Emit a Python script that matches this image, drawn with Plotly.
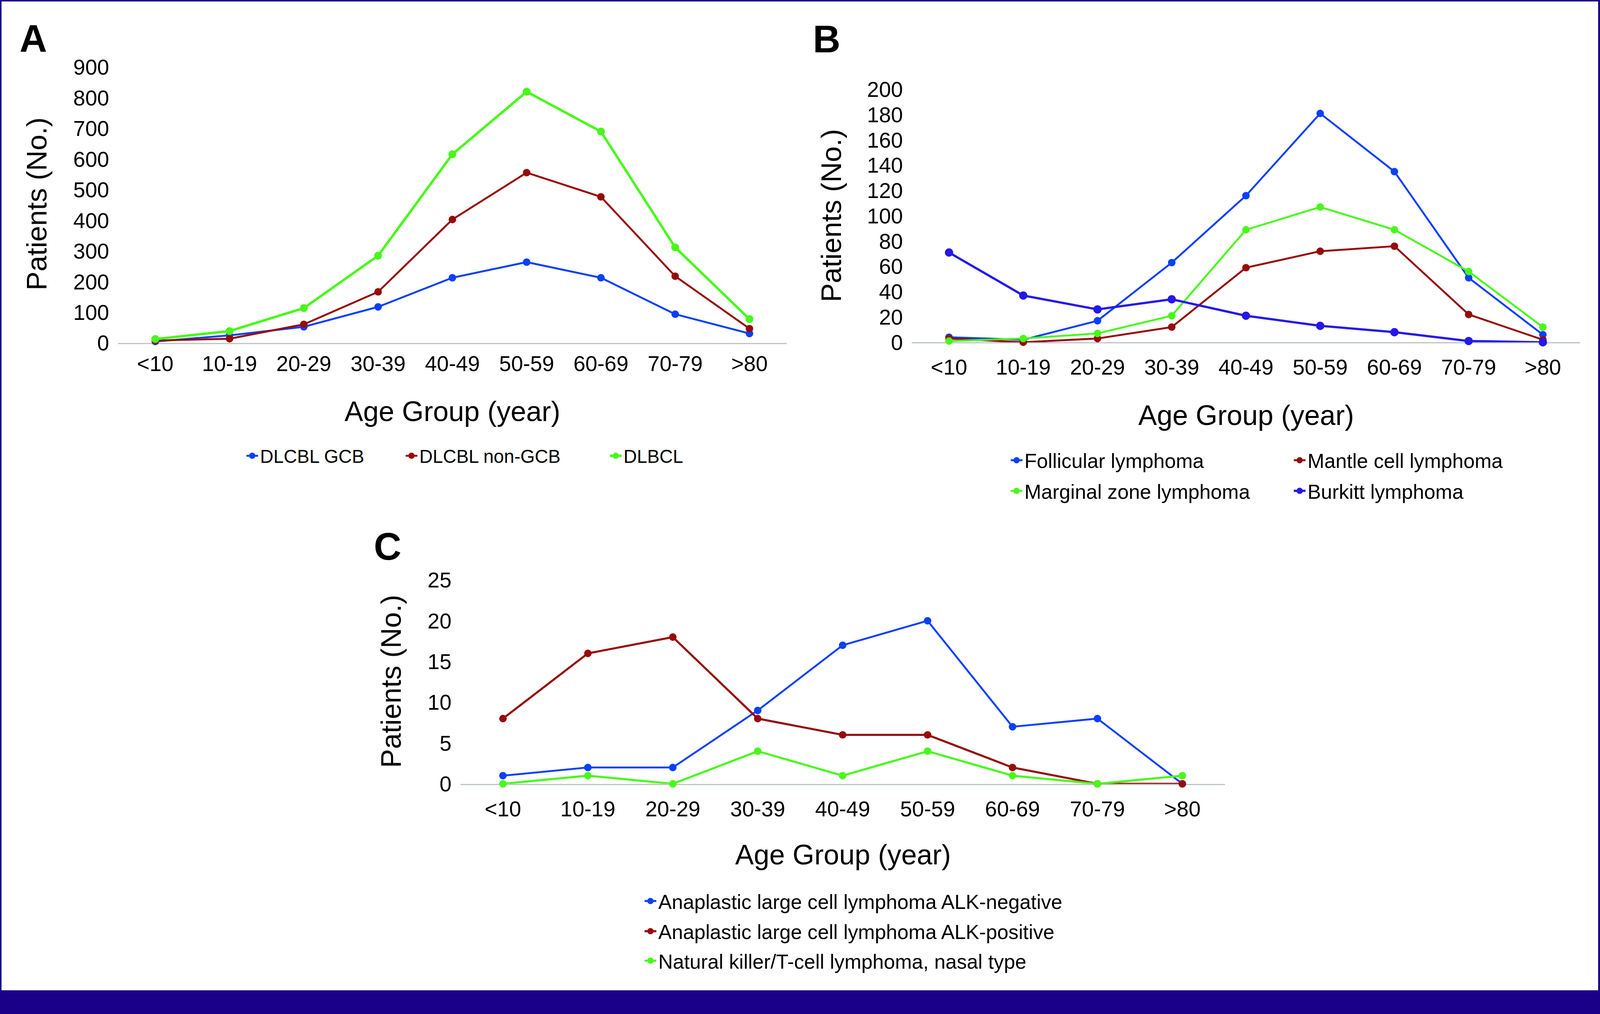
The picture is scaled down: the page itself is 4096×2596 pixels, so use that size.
import plotly.graph_objects as go

# ---------------- data ----------------
age_groups = ["<10", "10-19", "20-29", "30-39", "40-49", "50-59", "60-69", "70-79", ">80"]

# Panel A
a_names = ["DLCBL GCB", "DLCBL non-GCB", "DLBCL"]
a_gcb = [5, 25, 53, 118, 213, 264, 213, 94, 31]
a_nongcb = [8, 14, 61, 167, 403, 556, 477, 218, 47]
a_dlbcl = [13, 39, 114, 285, 616, 820, 690, 312, 78]
a_ticks = [0, 100, 200, 300, 400, 500, 600, 700, 800, 900]

# Panel B
b_names = ["Follicular lymphoma", "Mantle cell lymphoma", "Marginal zone lymphoma", "Burkitt lymphoma"]
b_follicular = [4, 2, 17, 63, 116, 181, 135, 51, 6]
b_mantle = [3, 0, 3, 12, 59, 72, 76, 22, 2]
b_marginal = [1, 3, 7, 21, 89, 107, 89, 56, 12]
b_burkitt = [71, 37, 26, 34, 21, 13, 8, 1, 0]
b_ticks = [0, 20, 40, 60, 80, 100, 120, 140, 160, 180, 200]

# Panel C
c_names = ["Anaplastic large cell lymphoma ALK-negative",
           "Anaplastic large cell lymphoma ALK-positive",
           "Natural killer/T-cell lymphoma, nasal type"]
c_alk_neg = [1, 2, 2, 9, 17, 20, 7, 8, 0]
c_alk_pos = [8, 16, 18, 8, 6, 6, 2, 0, 0]
c_nk = [0, 1, 0, 4, 1, 4, 1, 0, 1]
c_ticks = [0, 5, 10, 15, 20, 25]

panel_letters = ["A", "B", "C"]
x_title = "Age Group (year)"
y_title = "Patients (No.)"

# ---------------- geometry helpers ----------------
W_REF, H_REF = 4239, 2687
W, H = 4096, 2596
S = W / W_REF
FONT = "Liberation Sans, Arial, Helvetica, sans-serif"

BLUE = "#0B40FA"
RED = "#960B0B"
GREEN = "#48F81A"
INDIGO = "#2418E8"
AXIS_GREY = "#BEC5C3"
NAVY = "#1A0088"


def fx(x):
    return x / W_REF


def fy(y):
    return 1 - y / H_REF


fig = go.Figure()


def add_series(xaxis, yaxis, name, values, color, lw, ms, legend):
    fig.add_trace(go.Scatter(
        x=age_groups, y=values, name=name, mode="lines+markers",
        xaxis=xaxis, yaxis=yaxis, legend=legend, showlegend=True,
        line=dict(color=color, width=lw * S),
        marker=dict(color=color, size=ms * S, symbol="circle"),
        cliponaxis=False, hoverinfo="x+y+name",
    ))


# Panel A
add_series("x", "y", a_names[0], a_gcb, BLUE, 5, 20, "legend")
add_series("x", "y", a_names[1], a_nongcb, RED, 5, 20, "legend2")
add_series("x", "y", a_names[2], a_dlbcl, GREEN, 6.5, 21, "legend3")
# Panel B
add_series("x2", "y2", b_names[0], b_follicular, BLUE, 5, 20, "legend4")
add_series("x2", "y2", b_names[1], b_mantle, RED, 5, 20, "legend5")
add_series("x2", "y2", b_names[2], b_marginal, GREEN, 5, 20, "legend6")
add_series("x2", "y2", b_names[3], b_burkitt, INDIGO, 6, 22, "legend7")
# Panel C
add_series("x3", "y3", c_names[0], c_alk_neg, BLUE, 5, 20, "legend8")
add_series("x3", "y3", c_names[1], c_alk_pos, RED, 5.5, 20, "legend9")
add_series("x3", "y3", c_names[2], c_nk, GREEN, 5.5, 20, "legend10")

TICK_FONT = dict(family=FONT, size=57 * S, color="black")


def xaxis_cfg(domain, anchor, standoff):
    return dict(domain=[fx(domain[0]), fx(domain[1])], anchor=anchor, type="category",
                range=[-0.5, 8.5], showline=True, linecolor=AXIS_GREY, linewidth=3 * S,
                showgrid=False, zeroline=False, ticks="", tickfont=TICK_FONT, automargin=False,
                ticklabelstandoff=int(round(standoff * S)), layer="below traces", fixedrange=True)


def yaxis_cfg(domain, anchor, rng, ticks):
    return dict(domain=[fy(domain[1]), fy(domain[0])], anchor=anchor, range=rng,
                tickvals=ticks, ticktext=[str(t) for t in ticks], automargin=False,
                showline=False, showgrid=False, zeroline=False, ticks="",
                tickfont=TICK_FONT, ticklabelstandoff=int(round(23 * S)), fixedrange=True)


layout = dict(
    width=W, height=H, autosize=False, showlegend=True,
    margin=dict(l=0, r=0, t=0, b=0, pad=0, autoexpand=False),
    paper_bgcolor="white", plot_bgcolor="white",
    font=dict(family=FONT, color="black"),
    xaxis=xaxis_cfg((313, 2084), "y", 3),
    yaxis=yaxis_cfg((178, 909), "x", [0, 900], a_ticks),
    xaxis2=xaxis_cfg((2416, 4186), "y2", 15),
    yaxis2=yaxis_cfg((237, 907), "x2", [0, 200], b_ticks),
    xaxis3=xaxis_cfg((1220, 3245), "y3", 15),
    yaxis3=yaxis_cfg((1537, 2077), "x3", [0, 25], c_ticks),
)

# legends: one per entry, placed where the reference puts each entry
legend_pos = [
    ("legend", 689, 1208, 49),
    ("legend2", 1111, 1208, 49),
    ("legend3", 1652, 1208, 49),
    ("legend4", 2714, 1220, 53.5),
    ("legend5", 3464, 1220, 53.5),
    ("legend6", 2714, 1301, 53.5),
    ("legend7", 3464, 1301, 53.5),
    ("legend8", 1744, 2388, 53.5),
    ("legend9", 1744, 2468, 53.5),
    ("legend10", 1744, 2546, 53.5),
]
for key, tx, ty, fs in legend_pos:
    layout[key] = dict(x=fx(tx) - 40 / W, y=fy(ty), xanchor="left", yanchor="middle",
                       orientation="v", bgcolor="rgba(0,0,0,0)", borderwidth=0, visible=True,
                       font=dict(family=FONT, size=fs * S, color="black"))

annotations = []
# panel letters
for letter, (cx, cy) in zip(panel_letters, [(87.5, 101.5), (2190, 104), (1027, 1449)]):
    annotations.append(dict(text="<b>%s</b>" % letter, x=fx(cx), y=fy(cy), xref="paper", yref="paper",
                            xanchor="center", yanchor="middle", showarrow=False,
                            font=dict(family=FONT, size=101 * S, color="black")))
# x-axis titles
for cx, cy in [(1198, 1090), (3301, 1100), (2233, 2265)]:
    annotations.append(dict(text=x_title, x=fx(cx), y=fy(cy), xref="paper", yref="paper",
                            xanchor="center", yanchor="middle", showarrow=False,
                            font=dict(family=FONT, size=74 * S, color="black")))
# y-axis titles
for cx, cy in [(97, 540), (2202, 571), (1036, 1806)]:
    annotations.append(dict(text=y_title, x=fx(cx), y=fy(cy), xref="paper", yref="paper",
                            xanchor="center", yanchor="middle", textangle=-90, showarrow=False,
                            font=dict(family=FONT, size=75 * S, color="black")))
layout["annotations"] = annotations

# page frame
shapes = []
for x0, y0, x1, y1 in [(0, 0, 4239, 4), (0, 0, 4, 2687), (4234, 0, 4239, 2687), (0, 2624, 4239, 2687)]:
    shapes.append(dict(type="rect", xref="paper", yref="paper", x0=fx(x0), x1=fx(x1),
                       y0=fy(y1), y1=fy(y0), fillcolor=NAVY, line=dict(width=0), layer="above"))
layout["shapes"] = shapes

fig.update_layout(**layout)
# remove the browser's default page margin so the figure starts at the window corner
fig.write_html("out.html", config={"displayModeBar": False},
               post_script="document.body.style.margin='0';document.body.style.overflow='hidden';")
